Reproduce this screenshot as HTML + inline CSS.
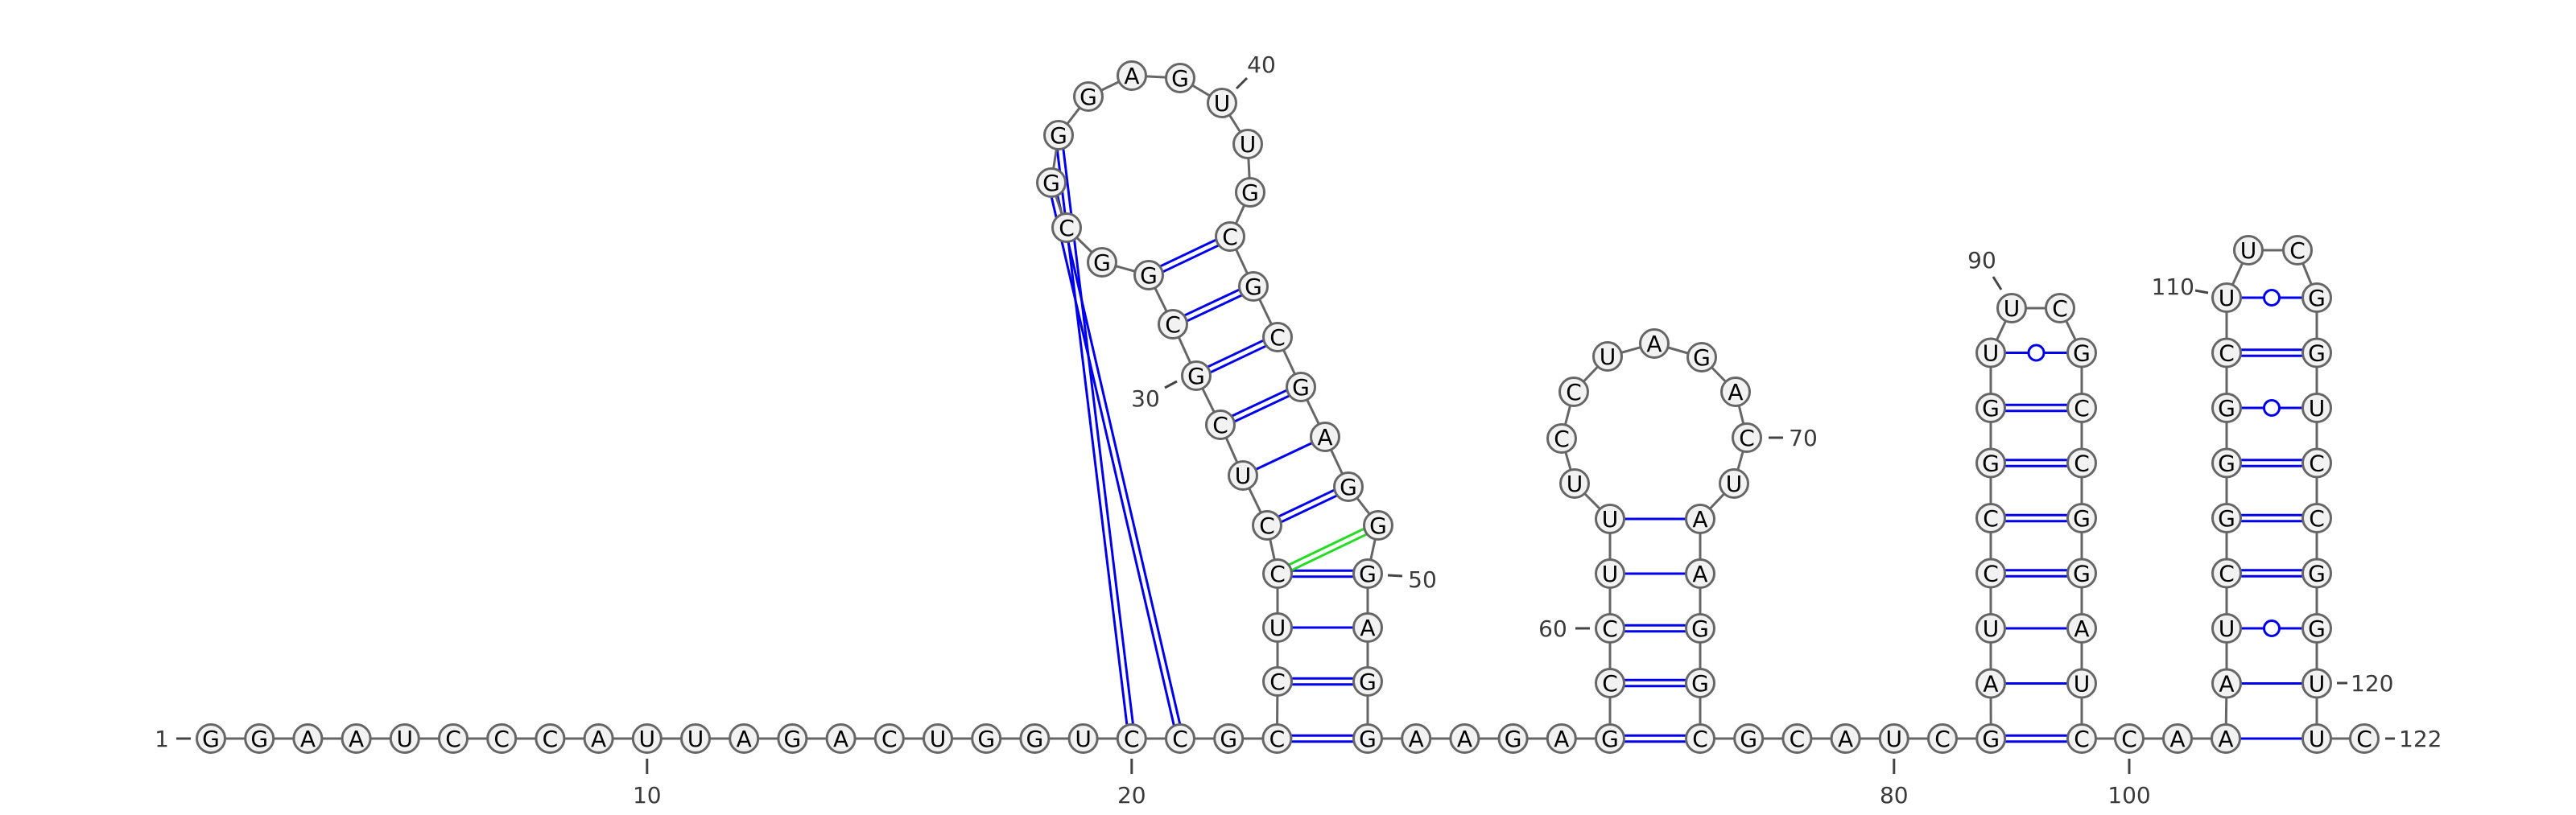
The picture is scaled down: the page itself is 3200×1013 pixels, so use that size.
<!DOCTYPE html>
<html><head><meta charset="utf-8"><style>html,body{margin:0;padding:0;background:#fff}svg{display:block}</style></head>
<body>
<svg id="rna" xmlns="http://www.w3.org/2000/svg" width="3200" height="1013" viewBox="0 0 3200 1013">
<g id="pairs"></g>
<g id="backbone"></g>
<g id="bases"></g>
<g id="labels"></g>
</svg>
<script>
const sequence = "GGAAUCCCAU"+"UAGACUGGUC"+"CGCCUCCUCG"+"CGGCGGGAGU"+"UGCGCGAGGG"+"AGGAAGAGCC"+"UUUCCUAGAC"+"UAAGGCGCAU"+"CGAUCCGGUU"+"CGCCGGAUCC"+"AAAUCGGGCU"+"UCGGUCCGGU"+"UC";
const pairList = [[20,36,'d'],[21,35,'d'],[23,53,'d'],[24,52,'d'],[25,51,'s'],[26,50,'d'],[26,49,'g'],[27,48,'d'],[28,47,'s'],[29,46,'d'],[30,45,'d'],[31,44,'d'],[32,43,'d'],
[58,76,'d'],[59,75,'d'],[60,74,'d'],[61,73,'s'],[62,72,'s'],
[82,99,'d'],[83,98,'s'],[84,97,'s'],[85,96,'d'],[86,95,'d'],[87,94,'d'],[88,93,'d'],[89,92,'w'],
[102,121,'s'],[103,120,'s'],[104,119,'w'],[105,118,'d'],[106,117,'d'],[107,116,'d'],[108,115,'w'],[109,114,'d'],[110,113,'w']];
const tickNumbers = [10,20,80,100];

const NS="http://www.w3.org/2000/svg";
function mk(tag, attrs, parent){const e=document.createElementNS(NS,tag);for(const k in attrs)e.setAttribute(k,attrs[k]);parent.appendChild(e);return e;}
const P={};
for(let i=1;i<=23;i++)P[i]=[262+(i-1)*60.2,918];
Object.assign(P,{24:[1587,847],25:[1587,780],26:[1587,713],27:[1574,653],28:[1544,591],29:[1516,528],30:[1486,467],31:[1457,403],32:[1427,342],33:[1369,326],34:[1325,283],35:[1306,227],36:[1315,168],37:[1352,120],38:[1406,94],39:[1466,97],40:[1518,128],41:[1550,179],42:[1553,239],43:[1528,294],44:[1557,356],45:[1587,419],46:[1616,481],47:[1646,543],48:[1675,605],49:[1712,653],50:[1699,713],51:[1699,780],52:[1699,847],53:[1699,918]});
for(let k=1;k<=5;k++)P[53+k]=[1699+k*60.2,918];
Object.assign(P,{59:[2000,849],60:[2000,781],61:[2000,713],62:[2000,645],63:[1956,601],64:[1940,545],65:[1955,487],66:[1997,443],67:[2055,427],68:[2114,444],69:[2156,487],70:[2170,544],71:[2154,601],72:[2112,645],73:[2112,713],74:[2112,781],75:[2112,849],76:[2112,918]});
for(let k=1;k<=6;k++)P[76+k]=[2112+k*60.2,918];
const st=68.5;
for(let k=1;k<=7;k++)P[82+k]=[2473,918-k*st];
P[90]=[2499,383];P[91]=[2559,383];
for(let k=0;k<=7;k++)P[99-k]=[2586,918-k*st];
P[100]=[2645,918];P[101]=[2705,918];P[102]=[2765,918];
for(let k=1;k<=8;k++)P[102+k]=[2766,918-k*st];
P[111]=[2793,311];P[112]=[2854,311];
for(let k=0;k<=8;k++)P[121-k]=[2878,918-k*st];
P[122]=[2937,918];
const N=Math.min(sequence.length,122);

const gp=document.getElementById('pairs'),gb=document.getElementById('backbone'),gs=document.getElementById('bases'),gl=document.getElementById('labels');
for(let i=1;i<N;i++){
  const a=P[i],b=P[i+1];
  const l=mk('line',{x1:a[0],y1:a[1],x2:b[0],y2:b[1],stroke:'#666','stroke-width':3},gb);
  
  
}
pairList.forEach(p=>{
  const a=P[p[0]],b=P[p[1]],t=p[2];
  const dx=b[0]-a[0],dy=b[1]-a[1],L=Math.hypot(dx,dy),nx=-dy/L*3.8,ny=dx/L*3.8;
  const col=t==='g'?'#22dd22':'#0000ee';
  const g=mk('g',{},gp);
  
  
  if(t==='d'||t==='g'){
    mk('line',{x1:a[0]+nx,y1:a[1]+ny,x2:b[0]+nx,y2:b[1]+ny,stroke:col,'stroke-width':3},g);
    mk('line',{x1:a[0]-nx,y1:a[1]-ny,x2:b[0]-nx,y2:b[1]-ny,stroke:col,'stroke-width':3},g);
  } else {
    mk('line',{x1:a[0],y1:a[1],x2:b[0],y2:b[1],stroke:col,'stroke-width':3},g);
    if(t==='w') mk('circle',{cx:(a[0]+b[0])/2,cy:(a[1]+b[1])/2,r:9.5,fill:'#fff',stroke:col,'stroke-width':3},g);
  }
});
for(let i=1;i<=N;i++){
  const p=P[i];
  const g=mk('g',{},gs);
  
  
  mk('circle',{cx:p[0],cy:p[1],r:17.5,fill:'#f2f2f2',stroke:'#666','stroke-width':3},g);
  const t=mk('text',{x:p[0],y:p[1]+10,'text-anchor':'middle','font-family':'DejaVu Sans, Liberation Sans, sans-serif','font-size':28,fill:'#000'},g);
  t.textContent=sequence[i-1];
}
function lab(txt,x,y,anchor,tick){
  const g=mk('g',{},gl);
  
  
  mk('line',{x1:tick[0],y1:tick[1],x2:tick[2],y2:tick[3],stroke:'#444','stroke-width':3},g);
  const t=mk('text',{x:x,y:y+10,'text-anchor':anchor,'font-family':'DejaVu Sans, Liberation Sans, sans-serif','font-size':28,fill:'#3a3a3a'},g);
  t.textContent=txt;
}
tickNumbers.forEach(n=>{const x=P[n][0];lab(String(n),x,988,'middle',[x,943,x,962]);});
lab('1',210,918,'end',[219,918,237,918]);
lab('30',1423,495,'middle',[1447,482,1462,474]);
lab('40',1567,80,'middle',[1536,110,1549,97]);
lab('50',1767,720,'middle',[1724,715,1742,716]);
lab('60',1929,781,'middle',[1957,781,1975,781]);
lab('70',2240,544,'middle',[2197,544,2215,544]);
lab('90',2462,323,'middle',[2476,344,2486,360]);
lab('110',2726,356,'end',[2727,361,2743,364]);
lab('120',2920,849,'start',[2903,849,2916,849]);
lab('122',2980,918,'start',[2963,918,2975,918]);
</script>
</body></html>
